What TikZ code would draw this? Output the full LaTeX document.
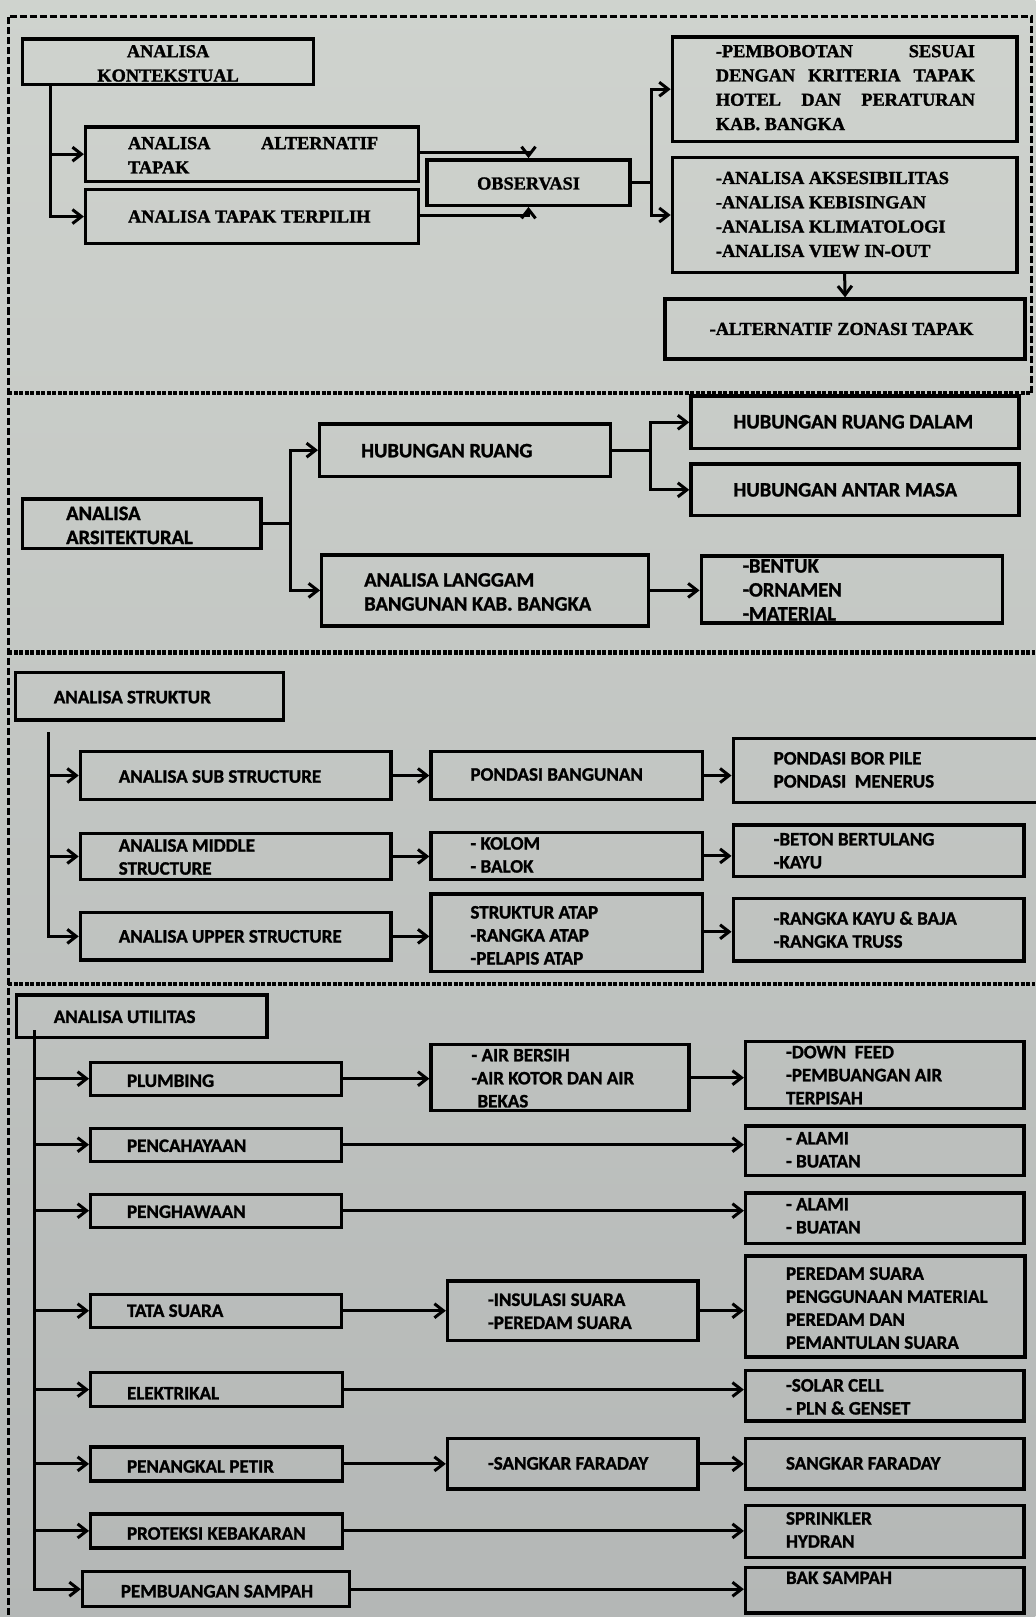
\documentclass[tikz,border=0pt]{standalone}
\usepackage{fontspec}
\setmainfont{Liberation Serif}[BoldFeatures={FakeBold=1.6}]
\newfontfamily\calib{Carlito}[BoldFeatures={FakeBold=1.3}]
\usetikzlibrary{arrows.meta,fit}
\definecolor{bgtop}{RGB}{207,211,206}
\definecolor{bgbot}{RGB}{180,183,182}
\newcommand\bx[6]{\node[box, fit={#2 #3}] (#1) {};\node[txt,#5] (#1-t) at #4 {#6};}
\begin{document}
\begin{tikzpicture}[x=1.031pt,y=-1.031pt,
  box/.style={draw=black, line width=3.4pt, inner sep=0pt},
  txt/.style={anchor=west, align=left, inner sep=0pt, text=black},
  sA/.style={font=\bfseries\fontsize{18.3}{24.3}\selectfont},
  sB/.style={font=\calib\bfseries\fontsize{20.5}{24}\selectfont},
  sC/.style={font=\calib\bfseries\fontsize{19}{23}\selectfont},
  ln/.style={line width=3pt},
  arr/.style={line width=3pt, -{Straight Barb[length=9pt,width=14pt]}},
  frame/.style={line width=3pt, dash pattern=on 7pt off 3pt},
  sep/.style={line width=4.6pt, dash pattern=on 4pt off 1.5pt}]

\shade[top color=bgtop, bottom color=bgbot] (0,0) rectangle (1004,1568);
\useasboundingbox (0,0) rectangle (1004,1568);

% frame and separators
\draw[frame] (1000,381) -- (1000,16) -- (8,16) -- (8,1568);
\draw[sep] (8,381) -- (1000,381);
\draw[sep] (8,633) -- (1004,633);
\draw[sep] (8,954) -- (1004,954);

% ---------- Section 1 ----------
\bx{kont}{(22,38)}{(304,82)}{(163,61.5)}{sA,anchor=center,align=center}{ANALISA\\KONTEKSTUAL}
\bx{alt}{(83,123)}{(406,176)}{(124,150.5)}{sA}{\hbox to 250pt{ANALISA\hfill ALTERNATIF}\\TAPAK}
\bx{terp}{(83,184)}{(406,236)}{(124,210)}{sA}{ANALISA TAPAK TERPILIH}
\bx{obs}{(414,155)}{(611,199)}{(512.5,178)}{sA,anchor=center}{OBSERVASI}
\bx{pemb}{(652,36)}{(986,137)}{(694,85)}{sA}{\hbox to 259pt{-PEMBOBOTAN\hfill SESUAI}\\\hbox to 259pt{DENGAN\hfill KRITERIA\hfill TAPAK}\\\hbox to 259pt{HOTEL\hfill DAN\hfill PERATURAN}\\KAB. BANGKA}
\bx{anl}{(652,153)}{(986,264)}{(694,208)}{sA}{-ANALISA AKSESIBILITAS\\-ANALISA KEBISINGAN\\-ANALISA KLIMATOLOGI\\-ANALISA VIEW IN-OUT}
\bx{zon}{(645,290)}{(994,348)}{(688,319)}{sA}{-ALTERNATIF ZONASI TAPAK}

\coordinate (kx) at (48.5,0);
\draw[arr] (kont.south -| kx) |- (alt.west);
\draw[arr] (kont.south -| kx) |- (terp.west);
\draw[arr] ([yshift=1.5pt]alt.east) -| (obs.north);
\draw[arr] ([yshift=1.5pt]terp.east) -| (obs.south);
\coordinate (oj) at (632,177);
\draw[ln] (obs.east |- oj) -- (oj);
\draw[arr] (oj) |- (pemb.west);
\draw[arr] (oj) |- (anl.west);
\draw[arr] (anl.south) -- (zon.north);

% ---------- Section 2 ----------
\bx{ars}{(22,484)}{(253,532)}{(64,509.5)}{sB}{ANALISA\\ARSITEKTURAL}
\bx{hr}{(310,411)}{(592,462)}{(350,437)}{sB}{HUBUNGAN RUANG}
\bx{lg}{(312,538)}{(629,607)}{(353,574)}{sB}{ANALISA LANGGAM\\BANGUNAN KAB. BANGKA}
\bx{hrd}{(670,384)}{(988,435)}{(711,409)}{sB}{HUBUNGAN RUANG DALAM}
\bx{hra}{(670,450)}{(988,500)}{(711,475)}{sB}{HUBUNGAN ANTAR MASA}
\bx{lst}{(680,539)}{(972,604)}{(720,572)}{sB}{-BENTUK\\-ORNAMEN\\-MATERIAL}

\coordinate (aj) at (282,508);
\draw[ln] (ars.east) -- (aj);
\draw[arr] (aj) |- (hr.west);
\draw[arr] (aj) |- (lg.west);
\coordinate (hj) at (631,436.5);
\draw[ln] (hr.east) -- (hj);
\draw[arr] (hj) |- (hrd.west);
\draw[arr] (hj) |- (hra.west);
\draw[arr] (lg.east) -- (lg.east -| lst.west);

% ---------- Section 3 ----------
\bx{str}{(15,652)}{(275,698)}{(52,676)}{sC}{ANALISA STRUKTUR}
\bx{sub}{(78,729)}{(379,775)}{(115,753)}{sC}{ANALISA SUB STRUCTURE}
\bx{mid}{(78,808)}{(379,853)}{(115,831)}{sC}{ANALISA MIDDLE\\STRUCTURE}
\bx{upp}{(78,885)}{(379,931)}{(115,908)}{sC}{ANALISA UPPER STRUCTURE}
\bx{pon}{(418,729)}{(681,775)}{(456,751)}{sC}{PONDASI BANGUNAN}
\bx{kol}{(418,807)}{(681,853)}{(456,829)}{sC}{- KOLOM\\- BALOK}
\bx{atap}{(418,867)}{(681,942)}{(456,907)}{sC}{STRUKTUR ATAP\\-RANGKA ATAP\\-PELAPIS ATAP}
\bx{pl}{(711,716)}{(1010,778)}{(750,746.5)}{sC}{PONDASI BOR PILE\\PONDASI\ \ MENERUS}
\bx{bet}{(711,800)}{(993,850)}{(750,825)}{sC}{-BETON BERTULANG\\-KAYU}
\bx{rk}{(711,871)}{(993,932)}{(750,901.5)}{sC}{-RANGKA KAYU \& BAJA\\-RANGKA TRUSS}

\coordinate (sj) at (47,710);
\draw[arr] (sj) |- (sub.west);
\draw[arr] (sj) |- (mid.west);
\draw[arr] (sj) |- (upp.west);
\draw[arr] (sub.east) -- (sub.east -| pon.west);
\draw[arr] (mid.east) -- (mid.east -| kol.west);
\draw[arr] (upp.east) -- (upp.east -| atap.west);
\draw[arr] (pon.east) -- (pon.east -| pl.west);
\draw[arr] (kol.east) -- (kol.east -| bet.west);
\draw[arr] ([yshift=1pt]atap.east) -- ([yshift=1pt]atap.east -| rk.west);

% ---------- Section 4 ----------
\bx{ut}{(16,965)}{(259,1006)}{(52,986)}{sC}{ANALISA UTILITAS}
\bx{plb}{(88,1030)}{(331,1062)}{(123,1048)}{sC}{PLUMBING}
\bx{air}{(418,1013)}{(668,1077)}{(457,1045.5)}{sC}{- AIR BERSIH\\-AIR KOTOR DAN AIR\\\hspace*{6pt}BEKAS}
\bx{dwn}{(723,1010)}{(993,1075)}{(762,1042.5)}{sC}{-DOWN\ \ FEED\\-PEMBUANGAN AIR\\TERPISAH}
\bx{pc}{(88,1094)}{(331,1126)}{(123,1111)}{sC}{PENCAHAYAAN}
\bx{al1}{(723,1092)}{(993,1140)}{(762,1115)}{sC}{- ALAMI\\- BUATAN}
\bx{ph}{(88,1158)}{(331,1190)}{(123,1175)}{sC}{PENGHAWAAN}
\bx{al2}{(723,1157)}{(993,1206)}{(762,1179)}{sC}{- ALAMI\\- BUATAN}
\bx{ts}{(88,1255)}{(331,1287)}{(123,1271)}{sC}{TATA SUARA}
\bx{ins}{(434,1242)}{(677,1300)}{(473,1271.5)}{sC}{-INSULASI SUARA\\-PEREDAM SUARA}
\bx{prd}{(723,1218)}{(994,1316)}{(762,1268.5)}{sC}{PEREDAM SUARA\\PENGGUNAAN MATERIAL\\PEREDAM DAN\\PEMANTULAN SUARA}
\bx{el}{(88,1331)}{(332,1364)}{(123,1351)}{sC}{ELEKTRIKAL}
\bx{sol}{(723,1329)}{(993,1378)}{(762,1354.5)}{sC}{-SOLAR CELL\\- PLN \& GENSET}
\bx{pp}{(88,1403)}{(332,1436)}{(123,1422)}{sC}{PENANGKAL PETIR}
\bx{sk1}{(434,1395)}{(677,1444)}{(473,1419)}{sC}{-SANGKAR FARADAY}
\bx{sk2}{(723,1395)}{(993,1444)}{(762,1419)}{sC}{SANGKAR FARADAY}
\bx{pk}{(88,1468)}{(332,1501)}{(123,1487)}{sC}{PROTEKSI KEBAKARAN}
\bx{spr}{(723,1460)}{(993,1510)}{(762,1483.5)}{sC}{SPRINKLER\\HYDRAN}
\bx{ps}{(80,1524)}{(339,1558)}{(117,1543)}{sC}{PEMBUANGAN SAMPAH}
\bx{bak}{(723,1520)}{(993,1564)}{(762,1530)}{sC}{BAK SAMPAH}

\coordinate (uj) at (33,999);
\draw[arr] (uj) |- (plb.west);
\draw[arr] (uj) |- (pc.west);
\draw[arr] (uj) |- (ph.west);
\draw[arr] (uj) |- (ts.west);
\draw[arr] (uj) |- (el.west);
\draw[arr] (uj) |- (pp.west);
\draw[arr] (uj) |- (pk.west);
\draw[arr] (uj) |- (ps.west);
\draw[arr] (plb.east) -- (plb.east -| air.west);
\draw[arr] (air.east) -- (air.east -| dwn.west);
\draw[arr] (pc.east) -- (pc.east -| al1.west);
\draw[arr] (ph.east) -- (ph.east -| al2.west);
\draw[arr] (ts.east) -- (ts.east -| ins.west);
\draw[arr] (ins.east) -- (ins.east -| prd.west);
\draw[arr] (el.east) -- (el.east -| sol.west);
\draw[arr] (pp.east) -- (pp.east -| sk1.west);
\draw[arr] (sk1.east) -- (sk1.east -| sk2.west);
\draw[arr] (pk.east) -- (pk.east -| spr.west);
\draw[arr] (ps.east) -- (ps.east -| bak.west);
\end{tikzpicture}
\end{document}
